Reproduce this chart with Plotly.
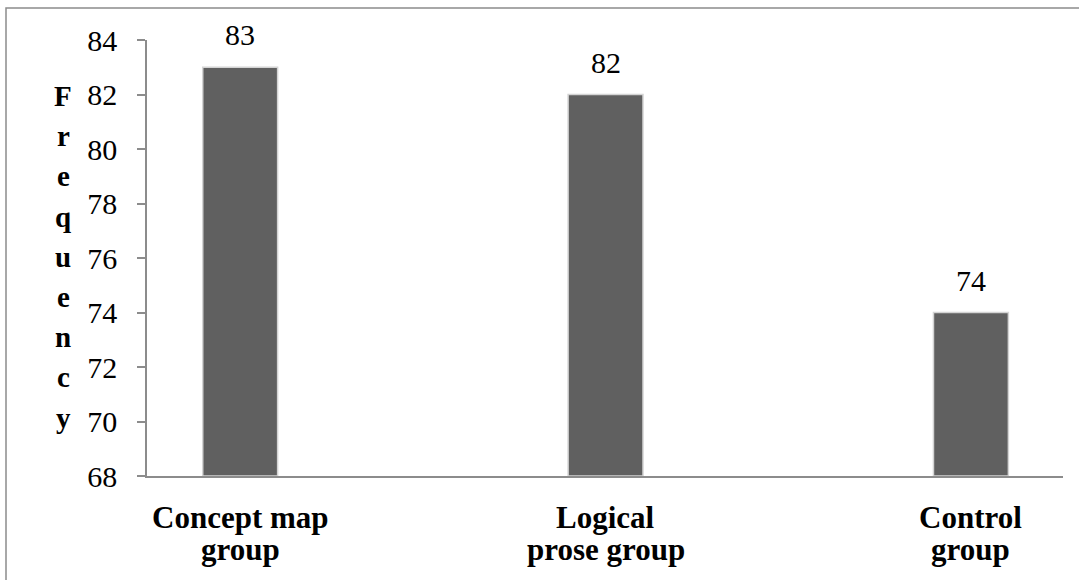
import plotly.graph_objects as go

categories = ["Concept map group", "Logical prose group", "Control group"]
label_lines = [["Concept map", "group"], ["Logical", "prose group"], ["Control", "group"]]
values = [83, 82, 74]
y_title = "Frequency"
y_ticks = [68, 70, 72, 74, 76, 78, 80, 82, 84]

W, H = 1079, 580
L, R, T, B = 147, 16, 40, 104
pw, ph = W - L - R, H - T - B

def px_to_paper_y(py):
    return (H - B - py) / ph

def px_to_paper_x(px):
    return (px - L) / pw

FONT = "Liberation Serif"

fig = go.Figure()
fig.add_trace(go.Bar(
    x=list(range(len(categories))),
    y=[v - 68 for v in values],
    base=68,
    width=0.205,
    marker=dict(color="#606060", line=dict(color="#d4d4d4", width=1.5)),
    hoverinfo="skip",
    showlegend=False,
))

annotations = []
# value labels
for i, v in enumerate(values):
    annotations.append(dict(
        x=i, y=v, xref="x", yref="y", text=str(v), showarrow=False,
        yanchor="bottom", yshift=14,
        font=dict(family=FONT, size=30, color="black"),
    ))
# category labels (two lines each)
line_y = [517, 549]
for i, lines in enumerate(label_lines):
    for j, t in enumerate(lines):
        annotations.append(dict(
            x=i, y=px_to_paper_y(line_y[j]), xref="x", yref="paper",
            text="<b>%s</b>" % t, showarrow=False, yanchor="middle",
            font=dict(family=FONT, size=31, color="black"),
        ))
# vertical stacked y-axis title
for k, ch in enumerate(y_title):
    annotations.append(dict(
        x=px_to_paper_x(63), y=px_to_paper_y(96 + 40.2 * k),
        xref="paper", yref="paper", text="<b>%s</b>" % ch, showarrow=False,
        xanchor="center", yanchor="middle",
        font=dict(family=FONT, size=29, color="black"),
    ))

fig.update_layout(
    width=W, height=H,
    margin=dict(l=L, r=R, t=T, b=B),
    plot_bgcolor="white", paper_bgcolor="white",
    annotations=annotations,
    xaxis=dict(
        range=[-0.255, 2.252], showticklabels=False, ticks="",
        showgrid=False, zeroline=False,
        showline=True, linecolor="#8c8c8c", linewidth=1.5,
    ),
    yaxis=dict(
        range=[68, 84], tickvals=y_ticks, ticks="outside", ticklen=8,
        tickcolor="#8c8c8c", tickwidth=1.5, showgrid=False, zeroline=False,
        showline=True, linecolor="#8c8c8c", linewidth=1.5,
        ticklabelstandoff=14,
        tickfont=dict(family=FONT, size=30, color="black"),
    ),
    shapes=[dict(
        type="rect", xref="paper", yref="paper",
        x0=px_to_paper_x(6), x1=px_to_paper_x(1100),
        y0=px_to_paper_y(600), y1=px_to_paper_y(8),
        line=dict(color="#8c8c8c", width=1.5), fillcolor="rgba(0,0,0,0)",
        layer="below",
    )],
)

fig.write_html(
    "out.html",
    config={"displayModeBar": False},
    post_script="document.body.style.margin='0';document.body.style.overflow='hidden';",
)
